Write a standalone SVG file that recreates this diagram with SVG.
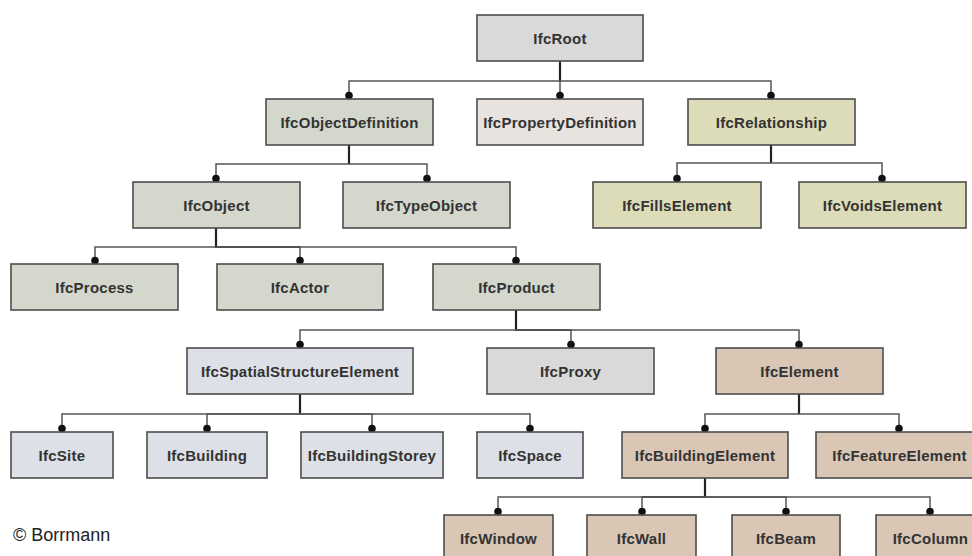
<svg xmlns="http://www.w3.org/2000/svg" width="972" height="556" viewBox="0 0 972 556">
<style>
.box{stroke:#4d4d4d;stroke-width:1.6}
.lbl{font-family:"Liberation Sans",Arial,sans-serif;font-weight:bold;font-size:15px;fill:#333;text-anchor:middle;letter-spacing:0.25px}
.stem{fill:none;stroke:#222;stroke-width:2.2}
.bus{fill:none;stroke:#555;stroke-width:1.5;marker-end:url(#dot)}
.gray{fill:#d9d9d9}.pink{fill:#e9e3df}.green{fill:#d4d7cc}.yellow{fill:#dcdcb9}.blue{fill:#dde0e6}.tan{fill:#d9c6b5}
</style>
<defs>
<marker id="dot" markerUnits="userSpaceOnUse" markerWidth="10" markerHeight="10" refX="5" refY="5" orient="auto"><circle cx="5" cy="5" r="3.8" fill="#111"/></marker>
</defs>
<rect width="972" height="556" fill="#fff"/>
<g id="connectors">
<path class="stem" d="M560,61V81"/>
<path class="bus" d="M560,81H349V95.5"/>
<path class="bus" d="M560,81V95.5"/>
<path class="bus" d="M560,81H771V95.5"/>
<path class="stem" d="M349,145V164"/>
<path class="bus" d="M349,164H216V178.5"/>
<path class="bus" d="M349,164H427V178.5"/>
<path class="stem" d="M771,145V163"/>
<path class="bus" d="M771,163H677V178.5"/>
<path class="bus" d="M771,163H882V178.5"/>
<path class="stem" d="M216,228V247H300"/>
<path class="bus" d="M216,247H95V260.5"/>
<path class="bus" d="M216,247H300V260.5"/>
<path class="bus" d="M216,247H516V260.5"/>
<path class="stem" d="M516,310V330H571"/>
<path class="bus" d="M516,330H300V344.5"/>
<path class="bus" d="M516,330H571V344.5"/>
<path class="bus" d="M516,330H799V344.5"/>
<path class="stem" d="M300,394V414"/>
<path class="bus" d="M300,414H62V428.5"/>
<path class="bus" d="M300,414H207V428.5"/>
<path class="bus" d="M300,414H372V428.5"/>
<path class="bus" d="M300,414H530V428.5"/>
<path class="stem" d="M799,394V414"/>
<path class="bus" d="M799,414H705V428.5"/>
<path class="bus" d="M799,414H899V428.5"/>
<path class="stem" d="M705,478V497H642"/>
<path class="bus" d="M705,497H498V511.5"/>
<path class="bus" d="M705,497H642V511.5"/>
<path class="bus" d="M705,497H786V511.5"/>
<path class="bus" d="M705,497H930V511.5"/>
</g>
<g id="IfcRoot"><rect class="box gray" x="477" y="15" width="166" height="46"/><text class="lbl" x="560" y="43.5">IfcRoot</text></g>
<g id="IfcObjectDefinition"><rect class="box green" x="266" y="99" width="167" height="46"/><text class="lbl" x="349.5" y="127.5">IfcObjectDefinition</text></g>
<g id="IfcPropertyDefinition"><rect class="box pink" x="477" y="99" width="166" height="46"/><text class="lbl" x="560" y="127.5">IfcPropertyDefinition</text></g>
<g id="IfcRelationship"><rect class="box yellow" x="688" y="99" width="167" height="46"/><text class="lbl" x="771.5" y="127.5">IfcRelationship</text></g>
<g id="IfcObject"><rect class="box green" x="133" y="182" width="167" height="46"/><text class="lbl" x="216.5" y="210.5">IfcObject</text></g>
<g id="IfcTypeObject"><rect class="box green" x="343" y="182" width="167" height="46"/><text class="lbl" x="426.5" y="210.5">IfcTypeObject</text></g>
<g id="IfcFillsElement"><rect class="box yellow" x="593" y="182" width="168" height="46"/><text class="lbl" x="677" y="210.5">IfcFillsElement</text></g>
<g id="IfcVoidsElement"><rect class="box yellow" x="799" y="182" width="167" height="46"/><text class="lbl" x="882.5" y="210.5">IfcVoidsElement</text></g>
<g id="IfcProcess"><rect class="box green" x="11" y="264" width="167" height="46"/><text class="lbl" x="94.5" y="292.5">IfcProcess</text></g>
<g id="IfcActor"><rect class="box green" x="217" y="264" width="166" height="46"/><text class="lbl" x="300" y="292.5">IfcActor</text></g>
<g id="IfcProduct"><rect class="box green" x="433" y="264" width="167" height="46"/><text class="lbl" x="516.5" y="292.5">IfcProduct</text></g>
<g id="IfcSpatialStructureElement"><rect class="box blue" x="187" y="348" width="226" height="46"/><text class="lbl" x="300" y="376.5">IfcSpatialStructureElement</text></g>
<g id="IfcProxy"><rect class="box gray" x="487" y="348" width="167" height="46"/><text class="lbl" x="570.5" y="376.5">IfcProxy</text></g>
<g id="IfcElement"><rect class="box tan" x="716" y="348" width="167" height="46"/><text class="lbl" x="799.5" y="376.5">IfcElement</text></g>
<g id="IfcSite"><rect class="box blue" x="11" y="432" width="102" height="46"/><text class="lbl" x="62" y="460.5">IfcSite</text></g>
<g id="IfcBuilding"><rect class="box blue" x="147" y="432" width="120" height="46"/><text class="lbl" x="207" y="460.5">IfcBuilding</text></g>
<g id="IfcBuildingStorey"><rect class="box blue" x="301" y="432" width="142" height="46"/><text class="lbl" x="372" y="460.5">IfcBuildingStorey</text></g>
<g id="IfcSpace"><rect class="box blue" x="477" y="432" width="106" height="46"/><text class="lbl" x="530" y="460.5">IfcSpace</text></g>
<g id="IfcBuildingElement"><rect class="box tan" x="622" y="432" width="166" height="46"/><text class="lbl" x="705" y="460.5">IfcBuildingElement</text></g>
<g id="IfcFeatureElement"><rect class="box tan" x="816" y="432" width="167" height="46"/><text class="lbl" x="899.5" y="460.5">IfcFeatureElement</text></g>
<g id="IfcWindow"><rect class="box tan" x="444" y="515" width="109" height="46"/><text class="lbl" x="498.5" y="543.5">IfcWindow</text></g>
<g id="IfcWall"><rect class="box tan" x="587" y="515" width="109" height="46"/><text class="lbl" x="641.5" y="543.5">IfcWall</text></g>
<g id="IfcBeam"><rect class="box tan" x="732" y="515" width="108" height="46"/><text class="lbl" x="786" y="543.5">IfcBeam</text></g>
<g id="IfcColumn"><rect class="box tan" x="876" y="515" width="109" height="46"/><text class="lbl" x="930.5" y="543.5">IfcColumn</text></g>
<text x="13" y="541" font-family="'Liberation Sans',Arial,sans-serif" font-size="18" fill="#222">© Borrmann</text>
</svg>
